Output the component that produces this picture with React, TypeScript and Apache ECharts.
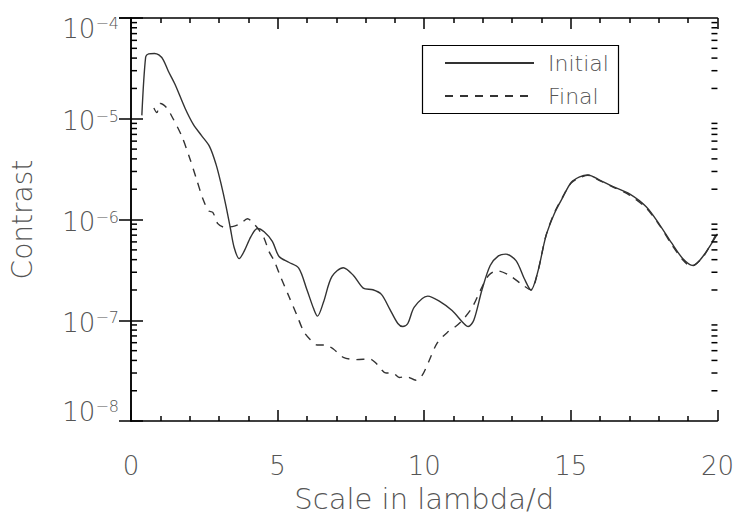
import React, { useEffect, useRef } from "react";
import * as echarts from "echarts";

const initialX = [0.37, 0.5, 0.6, 0.8, 0.95, 1.1, 1.27, 1.5, 1.84, 2.12, 2.4, 2.68, 2.9, 3.07, 3.24, 3.39, 3.52, 3.69, 3.86, 4.09, 4.31, 4.54, 4.82, 5.05, 5.38, 5.72, 6.0, 6.23, 6.36, 6.56, 6.85, 7.24, 7.58, 7.92, 8.25, 8.54, 8.82, 9.1, 9.27, 9.44, 9.66, 10.12, 10.5, 10.95, 11.35, 11.5, 11.69, 11.97, 12.25, 12.53, 12.78, 13.13, 13.41, 13.64, 13.87, 14.15, 14.44, 14.73, 15.01, 15.3, 15.58, 16.0, 16.44, 17.0, 17.57, 18.03, 18.43, 18.83, 19.17, 19.52, 20.0];
const initialY = [1.08e-5, 4.1e-5, 4.4e-5, 4.45e-5, 4.3e-5, 3.85e-5, 2.98e-5, 2.2e-5, 1.28e-5, 8.85e-6, 6.84e-6, 5.3e-6, 3.53e-6, 2.27e-6, 1.36e-6, 8.15e-7, 5.25e-7, 4.1e-7, 4.86e-7, 6.78e-7, 8.15e-7, 7.57e-7, 6.07e-7, 4.3e-7, 3.77e-7, 3.3e-7, 2.01e-7, 1.3e-7, 1.1e-7, 1.5e-7, 2.71e-7, 3.33e-7, 2.8e-7, 2.09e-7, 2.01e-7, 1.81e-7, 1.3e-7, 9.3e-8, 8.67e-8, 9.3e-8, 1.35e-7, 1.74e-7, 1.56e-7, 1.25e-7, 9.3e-8, 8.67e-8, 1.0e-7, 2.01e-7, 3.5e-7, 4.36e-7, 4.54e-7, 3.91e-7, 2.6e-7, 2.0e-7, 3.01e-7, 6.84e-7, 1.15e-6, 1.67e-6, 2.33e-6, 2.65e-6, 2.77e-6, 2.45e-6, 2.12e-6, 1.8e-6, 1.34e-6, 8.87e-7, 5.89e-7, 4.06e-7, 3.5e-7, 4.37e-7, 7.2e-7];

const finalX = [0.78, 0.88, 1.0, 1.2, 1.39, 1.72, 2.0, 2.23, 2.46, 2.65, 2.79, 2.96, 3.19, 3.52, 3.75, 3.97, 4.2, 4.37, 4.54, 4.7, 4.88, 5.1, 5.38, 5.66, 5.89, 6.11, 6.34, 6.62, 6.9, 7.24, 7.69, 8.14, 8.37, 8.7, 8.93, 9.15, 9.38, 9.72, 9.94, 10.17, 10.45, 10.79, 11.07, 11.3, 11.64, 11.92, 12.2, 12.48, 12.9, 13.36, 13.64, 13.87, 14.15, 14.44, 14.73, 15.01, 15.3, 15.58, 16.0, 16.44, 17.0, 17.57, 18.03, 18.43, 18.83, 19.1, 19.52, 20.0];
const finalY = [1.28e-5, 1.15e-5, 1.42e-5, 1.3e-5, 1.06e-5, 6.84e-6, 4.09e-6, 2.54e-6, 1.58e-6, 1.22e-6, 1.18e-6, 9.1e-7, 8.4e-7, 8.6e-7, 9.2e-7, 1.02e-6, 9.0e-7, 7.85e-7, 6.53e-7, 4.86e-7, 3.9e-7, 2.71e-7, 1.74e-7, 1.12e-7, 7.76e-8, 6.46e-8, 5.7e-8, 5.7e-8, 5.19e-8, 4.3e-8, 4.07e-8, 4.15e-8, 3.72e-8, 3.0e-8, 3.0e-8, 2.71e-8, 2.77e-8, 2.54e-8, 2.88e-8, 4.0e-8, 6.0e-8, 7.6e-8, 8.67e-8, 1.0e-7, 1.35e-7, 2.0e-7, 2.8e-7, 3.1e-7, 2.8e-7, 2.24e-7, 2.0e-7, 3.0e-7, 6.9e-7, 1.17e-6, 1.7e-6, 2.3e-6, 2.6e-6, 2.75e-6, 2.42e-6, 2.1e-6, 1.75e-6, 1.3e-6, 8.7e-7, 5.7e-7, 3.95e-7, 3.45e-7, 4.3e-7, 7.6e-7];

const thresholds = [1e-7, 2e-8];
const decades = [-8, -7, -6, -5];
const minorMultipliers = [2, 3, 4, 5, 6, 7, 8, 9];
const seriesNames = ["Initial", "Final"];
const xTitle = "Scale in lambda/d";
const yTitle = "Contrast";

const FONT = "DejaVu Sans";
const FW = 200;
const TEXT = "#555";
const AX = { color: "#000", width: 1.5 };

const minorTickValues: number[] = [];
decades.forEach((d) => minorMultipliers.forEach((m) => minorTickValues.push(m * Math.pow(10, d))));

export default function App() {
  const ref = useRef<HTMLDivElement>(null);
  useEffect(() => {
    document.body.style.margin = "0";
    if (!ref.current) return;
    const chart = echarts.init(ref.current, undefined, { renderer: "svg" });
    const yLabelFmt = (v: number) => {
      const e = Math.round(Math.log10(v));
      const main = `{b|10}{s|\u2212${-e}}`;
      if (e === -4) return `{sp1| }\n${main}`;
      if (e === -8) return `${main}\n{sp2| }`;
      return `{sp3| }\n${main}`;
    };
    const rich = {
      b: { fontSize: 26, lineHeight: 26, fontFamily: FONT, fontWeight: FW, color: TEXT, verticalAlign: "bottom" },
      s: { fontSize: 16, lineHeight: 10, fontFamily: FONT, fontWeight: FW, color: TEXT, verticalAlign: "top" },
      sp1: { fontSize: 10, lineHeight: 21 },
      sp2: { fontSize: 10, lineHeight: 19 },
      sp3: { fontSize: 5, lineHeight: 5 },
    };
    const option: any = {
      animation: false,
      backgroundColor: "#fff",
      grid: { left: 129, right: 16, top: 15, bottom: 85 },
      legend: {
        data: seriesNames,
        orient: "vertical",
        left: 444,
        top: 52,
        padding: 0,
        itemWidth: 89,
        itemHeight: 22,
        itemGap: 11,
        selectedMode: false,
        itemStyle: { opacity: 0 },
        textStyle: { fontFamily: FONT, fontWeight: FW, fontSize: 22, lineHeight: 22, color: TEXT, padding: [0, 0, 0, 9] },
      },
      graphic: [
        {
          type: "rect",
          shape: { x: 422.5, y: 45.5, width: 196, height: 68 },
          style: { fill: "none", stroke: "#000", lineWidth: 1.2 },
          silent: true,
        },
      ],
      xAxis: [
        {
          type: "value",
          min: 0,
          max: 20,
          interval: 5,
          name: xTitle,
          nameLocation: "middle",
          nameGap: 61,
          nameTextStyle: { fontFamily: FONT, fontWeight: FW, fontSize: 29, lineHeight: 29, color: TEXT },
          axisLine: { show: true, lineStyle: AX },
          axisTick: { show: true, inside: true, length: 11, lineStyle: AX },
          minorTick: { show: true, splitNumber: 5, length: 5, lineStyle: AX },
          axisLabel: { fontFamily: FONT, fontWeight: FW, fontSize: 26, lineHeight: 26, color: TEXT, margin: 32 },
          splitLine: { show: false },
        },
        {
          type: "value",
          position: "top",
          min: 0,
          max: 20,
          interval: 5,
          axisLine: { show: true, lineStyle: AX },
          axisTick: { show: true, inside: true, length: 11, lineStyle: AX },
          minorTick: { show: true, splitNumber: 5, length: 5, lineStyle: AX },
          axisLabel: { show: false },
          splitLine: { show: false },
        },
      ],
      yAxis: [
        {
          type: "log",
          logBase: 10,
          min: 1e-8,
          max: 1e-4,
          name: yTitle,
          nameLocation: "middle",
          nameRotate: 90,
          nameGap: 95,
          nameTextStyle: { fontFamily: FONT, fontWeight: FW, fontSize: 28, lineHeight: 28, color: TEXT },
          axisLine: { show: true, lineStyle: AX },
          axisTick: { show: true, inside: true, length: 12, lineStyle: AX },
          axisLabel: { formatter: yLabelFmt, rich, margin: 12, color: TEXT },
          splitLine: { show: false },
        },
        {
          type: "log",
          logBase: 10,
          min: 1e-8,
          max: 1e-4,
          position: "right",
          axisLine: { show: true, lineStyle: AX },
          axisTick: { show: true, inside: true, length: 12, lineStyle: AX },
          axisLabel: { show: false },
          splitLine: { show: false },
        },
      ],
      series: [
        {
          name: seriesNames[0],
          type: "line",
          data: initialX.map((x, i) => [x, initialY[i]]),
          showSymbol: false,
          symbol: "none",
          smooth: 0.3,
          lineStyle: { color: "#333", width: 1.4, type: "solid" },
          itemStyle: { color: "#333" },
          markLine: {
            silent: true,
            symbol: "none",
            label: { show: false },
            lineStyle: { type: [3, 3], color: "#000", width: 1.1 },
            data: thresholds.map((t) => ({ yAxis: t })),
          },
        },
        {
          name: seriesNames[1],
          type: "line",
          data: finalX.map((x, i) => [x, finalY[i]]),
          showSymbol: false,
          symbol: "none",
          smooth: 0.3,
          lineStyle: { color: "#333", width: 1.4, type: [8, 7] },
          itemStyle: { color: "#333" },
        },
        {
          type: "custom",
          name: "minorTicks",
          silent: true,
          clip: false,
          z: 5,
          data: minorTickValues.map((v) => [0, v]),
          renderItem: (params: any, api: any) => {
            const v = api.value(1);
            const pL = api.coord([0, v]);
            const pR = api.coord([20, v]);
            const st = { stroke: "#000", lineWidth: 1.5 };
            return {
              type: "group",
              children: [
                { type: "line", shape: { x1: pL[0], y1: pL[1], x2: pL[0] + 6, y2: pL[1] }, style: st },
                { type: "line", shape: { x1: pR[0], y1: pR[1], x2: pR[0] - 6, y2: pR[1] }, style: st },
              ],
            };
          },
        },
      ],
    };
    chart.setOption(option);
    return () => chart.dispose();
  }, []);
  return <div ref={ref} style={{ width: 737, height: 518 }} />;
}
